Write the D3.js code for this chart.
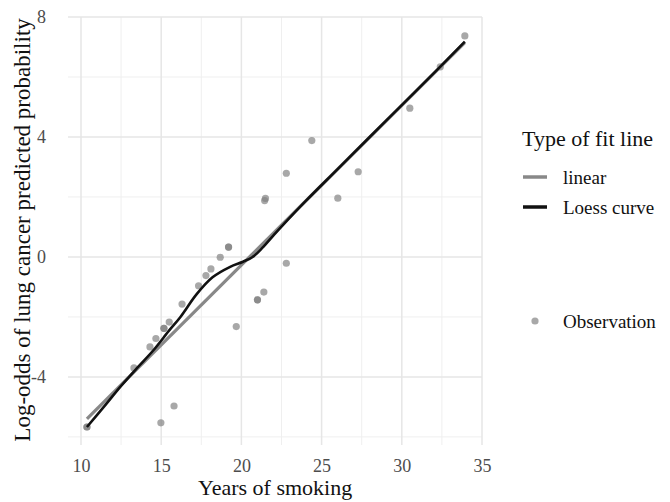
<!DOCTYPE html>
<html>
<head>
<meta charset="utf-8">
<script src="https://cdn.jsdelivr.net/npm/d3@7"></script>
<style>
  body { margin: 0; background: #fff; }
</style>
</head>
<body>
<div id="chart"></div>
<script>
const obsYears = [10.37, 10.37, 13.3, 14.3, 14.67, 15.17, 15.17, 15.5, 16.3, 14.98, 15.8,
                  17.33, 17.79, 18.1, 18.68, 19.2, 19.2, 19.68, 21.0, 21.0, 21.4, 21.45, 21.5,
                  22.8, 22.8, 24.39, 26.01, 27.28, 30.5, 32.4, 33.93];
const obsLogOdds = [-5.67, -5.67, -3.7, -3.0, -2.72, -2.38, -2.38, -2.17, -1.57, -5.53, -4.97,
                    -0.96, -0.62, -0.40, -0.01, 0.33, 0.33, -2.32, -1.43, -1.43, -1.17, 1.88, 1.95,
                    -0.21, 2.79, 3.88, 1.96, 2.84, 4.96, 6.34, 7.37];

// fitted lines
const linYears = [10.37, 33.93];
const linFit = [-5.4, 7.15];
const loessYears = [10.37, 11.5, 12.5, 13.5, 14.5, 15.5, 16.2, 17.2, 18.2, 19.3, 20.1, 20.7,
                    21.3, 22, 22.6, 24, 26, 28, 30, 32, 33.93];
const loessFit = [-5.67, -4.95, -4.3, -3.7, -3.12, -2.45, -2.0, -1.25, -0.68, -0.33, -0.16, 0.0,
                  0.3, 0.72, 1.07, 1.86, 2.93, 4.0, 5.06, 6.13, 7.18];

const xTicks = [10, 15, 20, 25, 30, 35];
const xMinor = [12.5, 17.5, 22.5, 27.5, 32.5];
const yTicks = [-4, 0, 4, 8];
const yMinor = [-6, -2, 2, 6];

const font = '"Liberation Serif", "Times New Roman", Times, serif';
const width = 670, height = 502;
const svg = d3.select('#chart').append('svg')
    .attr('width', width)
    .attr('height', height)
    .attr('font-family', font);

const x = d3.scaleLinear().domain([9.19, 35]).range([68, 482]);
const y = d3.scaleLinear().domain([-6.27, 8]).range([445, 17]);

// grid
const grid = svg.append('g');
grid.selectAll('.vmin').data(xMinor).join('line')
    .attr('x1', d => x(d)).attr('x2', d => x(d))
    .attr('y1', y.range()[0]).attr('y2', y.range()[1])
    .attr('stroke', '#efefef').attr('stroke-width', 1);
grid.selectAll('.hmin').data(yMinor).join('line')
    .attr('y1', d => y(d)).attr('y2', d => y(d))
    .attr('x1', x.range()[0]).attr('x2', x.range()[1])
    .attr('stroke', '#efefef').attr('stroke-width', 1);
grid.selectAll('.vmaj').data(xTicks).join('line')
    .attr('x1', d => x(d)).attr('x2', d => x(d))
    .attr('y1', y.range()[0]).attr('y2', y.range()[1])
    .attr('stroke', '#e6e6e6').attr('stroke-width', 1.5);
grid.selectAll('.hmaj').data(yTicks).join('line')
    .attr('y1', d => y(d)).attr('y2', d => y(d))
    .attr('x1', x.range()[0]).attr('x2', x.range()[1])
    .attr('stroke', '#e6e6e6').attr('stroke-width', 1.5);

// axes, text only
let xAxis = d3.axisBottom(x).tickValues(xTicks).tickSize(0).tickPadding(0);
let gx = svg.append('g').attr('transform', `translate(0, 472)`).call(xAxis)
    .attr('font-family', font).attr('font-size', 18);
gx.select('.domain').remove();
gx.selectAll('text').attr('dy', 0).attr('y', 0).attr('fill', '#4d4d4d');

let yAxis = d3.axisLeft(y).tickValues(yTicks).tickSize(0).tickPadding(0)
    .tickFormat(d => d < 0 ? '-' + Math.abs(d) : d);
let gy = svg.append('g').attr('transform', `translate(46, 0)`).call(yAxis)
    .attr('font-family', font).attr('font-size', 18);
gy.select('.domain').remove();
gy.selectAll('text').attr('fill', '#4d4d4d');

// points
const pts = obsYears.map((v, i) => ({ x: v, y: obsLogOdds[i] }));
svg.append('g').selectAll('circle').data(pts).join('circle')
    .attr('cx', d => x(d.x)).attr('cy', d => y(d.y)).attr('r', 3.6)
    .attr('fill', '#7f7f7f').attr('fill-opacity', 0.68);

// fit lines
const line = d3.line().x(d => x(d[0])).y(d => y(d[1]));
svg.append('path')
    .datum(linYears.map((v, i) => [v, linFit[i]]))
    .attr('d', line)
    .attr('fill', 'none').attr('stroke', '#888').attr('stroke-width', 3.2);
svg.append('path')
    .datum(loessYears.map((v, i) => [v, loessFit[i]]))
    .attr('d', line.curve(d3.curveCatmullRom))
    .attr('fill', 'none').attr('stroke', '#111').attr('stroke-width', 2.6);

// axis titles
svg.append('text')
    .attr('x', x(22.1)).attr('y', 495)
    .attr('text-anchor', 'middle')
    .attr('font-size', 22).attr('fill', '#111')
    .text('Years of smoking');
svg.append('text')
    .attr('transform', `translate(30, ${y(0.9)}) rotate(-90)`)
    .attr('text-anchor', 'middle')
    .attr('font-size', 23).attr('fill', '#111')
    .text('Log-odds of lung cancer predicted probability');

// legend
const legend = svg.append('g');
legend.append('text').attr('x', 522).attr('y', 146)
    .attr('font-size', 22).attr('fill', '#111').text('Type of fit line');
const legItems = [
    { label: 'linear', color: '#888', y: 177 },
    { label: 'Loess curve', color: '#111', y: 207 }
];
legItems.forEach(it => {
    legend.append('line')
        .attr('x1', 523).attr('x2', 547).attr('y1', it.y).attr('y2', it.y)
        .attr('stroke', it.color).attr('stroke-width', 3.5);
    legend.append('text').attr('x', 563).attr('y', it.y + 7)
        .attr('font-size', 19).attr('fill', '#111').text(it.label);
});
legend.append('circle').attr('cx', 535).attr('cy', 321).attr('r', 3.6)
    .attr('fill', '#7f7f7f').attr('fill-opacity', 0.68);
legend.append('text').attr('x', 563).attr('y', 328)
    .attr('font-size', 19).attr('fill', '#111').text('Observation');
</script>
</body>
</html>
